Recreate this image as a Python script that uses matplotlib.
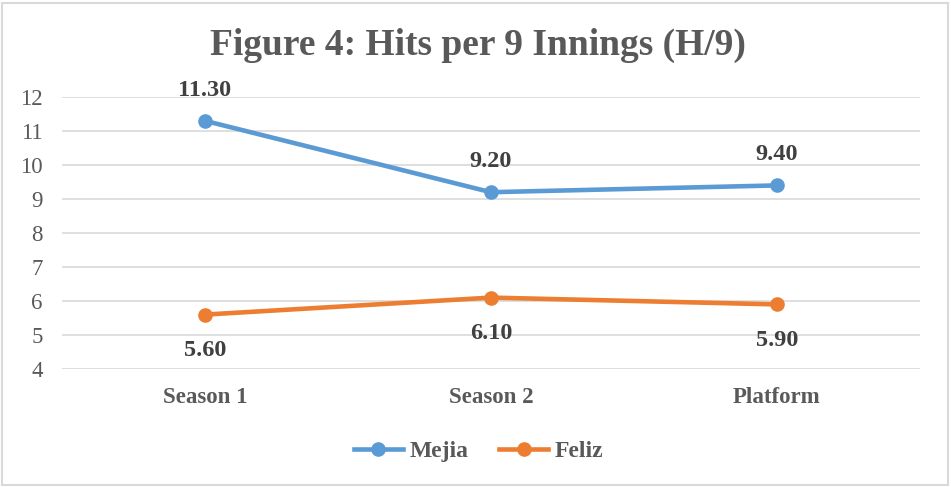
import matplotlib
matplotlib.use("Agg")
import matplotlib.pyplot as plt
from matplotlib.lines import Line2D
from matplotlib.patches import Rectangle

# chart data
categories = ["Season 1", "Season 2", "Platform"]
mejia = [11.30, 9.20, 9.40]
feliz = [5.60, 6.10, 5.90]
yticks = [4, 5, 6, 7, 8, 9, 10, 11, 12]

blue = "#5B9BD5"
orange = "#ED7D31"
gray = "#595959"
dark = "#404040"
grid = "#D9D9D9"

plt.rcParams['font.family'] = ['Liberation Serif', 'DejaVu Serif']

fig = plt.figure(figsize=(9.51, 4.87), dpi=100)
ax = fig.add_axes([0.0652, 0.2423, 0.902, 0.5585])

x = list(range(len(categories)))
ax.plot(x, mejia, color=blue, lw=3.3, marker='o', ms=9.5, solid_capstyle='round', zorder=3)
ax.plot(x, feliz, color=orange, lw=3.3, marker='o', ms=9.5, solid_capstyle='round', zorder=3)

for xi, v in zip(x, mejia):
    ax.annotate(f"{v:.2f}", (xi, v), xytext=(0, 22), textcoords='offset points',
                ha='center', va='center', fontsize=17.5, fontweight='bold', color=dark)
for xi, v in zip(x, feliz):
    ax.annotate(f"{v:.2f}", (xi, v), xytext=(0, -26), textcoords='offset points',
                ha='center', va='center', fontsize=17.5, fontweight='bold', color=dark)

ax.set_xlim(-0.5, 2.5)
ax.set_ylim(4, 12)
ax.set_yticks(yticks)
ax.set_yticklabels([str(t) for t in yticks], fontsize=16.5, color=gray)
ax.set_xticks(x)
ax.set_xticklabels(categories, fontsize=16.5, fontweight='bold', color=gray)
ax.tick_params(axis='both', length=0)
ax.tick_params(axis='x', pad=13)
ax.tick_params(axis='y', pad=14)
ax.grid(axis='y', color=grid, lw=1.2)
ax.set_axisbelow(True)
for s in ax.spines.values():
    s.set_visible(False)

fig.text(0.503, 0.907, "Figure 4: Hits per 9 Innings (H/9)", ha='center', va='center',
         fontsize=27, fontweight='bold', color=gray)

handles = [Line2D([], [], color=blue, lw=3.3, marker='o', ms=9.5),
           Line2D([], [], color=orange, lw=3.3, marker='o', ms=9.5)]
leg = fig.legend(handles, ["Mejia", "Feliz"], loc='center', bbox_to_anchor=(0.503, 0.073),
                 ncol=2, frameon=False, handlelength=2.1, columnspacing=1.3,
                 handletextpad=0.25, prop={'size': 17, 'weight': 'bold'})
for t in leg.get_texts():
    t.set_color(gray)

fig.patches.append(Rectangle((0.002, 0.004), 0.995, 0.99, transform=fig.transFigure,
                             fill=False, edgecolor=grid, lw=1.5))

fig.savefig("out.png", dpi=100)
